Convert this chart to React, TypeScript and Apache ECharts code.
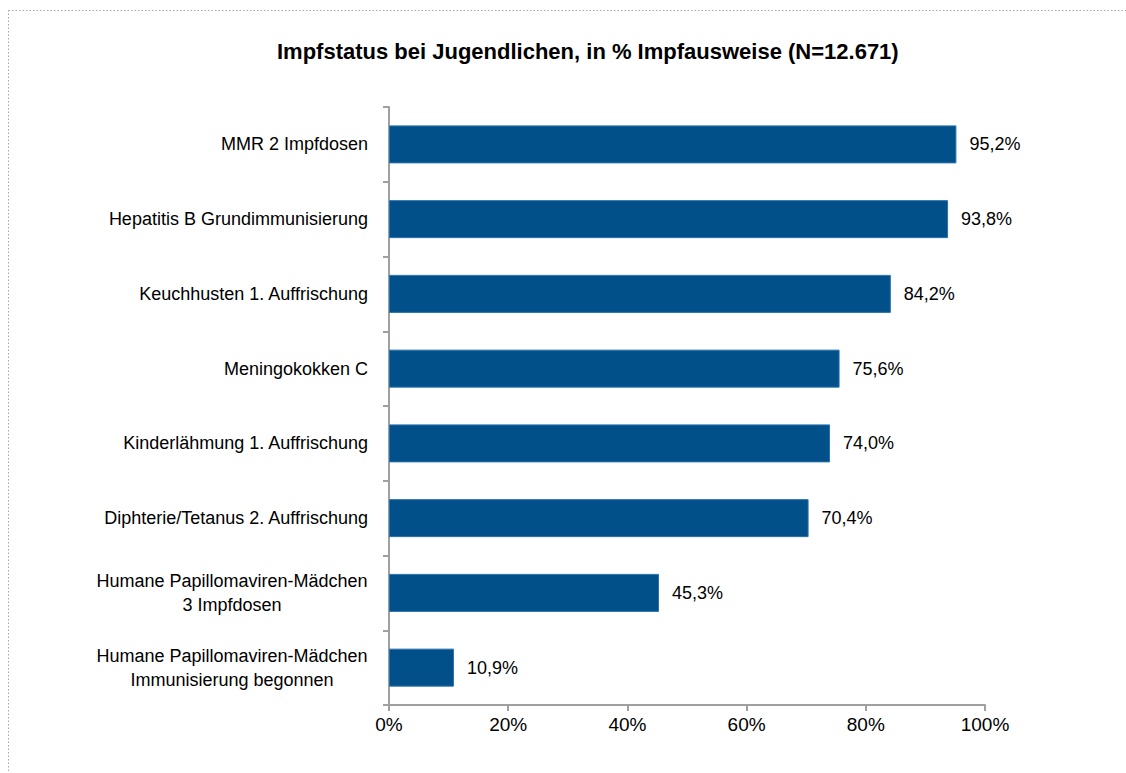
import React, { useEffect, useRef } from "react";
import * as echarts from "echarts";

const categories = [
  "MMR 2 Impfdosen",
  "Hepatitis B Grundimmunisierung",
  "Keuchhusten 1. Auffrischung",
  "Meningokokken C",
  "Kinderlähmung 1. Auffrischung",
  "Diphterie/Tetanus 2. Auffrischung",
  "Humane Papillomaviren-Mädchen\n3 Impfdosen",
  "Humane Papillomaviren-Mädchen\nImmunisierung begonnen",
];
const values = [95.2, 93.8, 84.2, 75.6, 74.0, 70.4, 45.3, 10.9];
const xTicks = [0, 20, 40, 60, 80, 100];
const titleText = "Impfstatus bei Jugendlichen, in % Impfausweise (N=12.671)";

const FONT = '"Liberation Sans", Arial, sans-serif';
const FS = 18;

function measure(text: string): number {
  const c = document.createElement("canvas").getContext("2d");
  if (!c) return text.length * 9;
  c.font = `${FS}px ${FONT}`;
  return c.measureText(text).width;
}

export default function App() {
  const ref = useRef<HTMLDivElement>(null);
  useEffect(() => {
    if (!ref.current) return;
    const chart = echarts.init(ref.current, null, { renderer: "svg" });
    const rich: Record<string, any> = {};
    categories.forEach((cat) => {
      const lines = cat.split("\n");
      if (lines.length > 1) {
        const w = Math.ceil(Math.max(...lines.map(measure)));
        rich["c" + w] = {
          width: w,
          align: "center",
          fontFamily: FONT,
          fontSize: FS,
          color: "#000",
          lineHeight: 24,
        };
      }
    });
    chart.setOption({
      animation: false,
      backgroundColor: "#fff",
      title: {
        text: titleText,
        left: 272,
        top: 35,
        textStyle: { fontFamily: FONT, fontSize: 22, fontWeight: "bold", color: "#000" },
      },
      graphic: [
        {
          type: "rect",
          shape: { x: 8.5, y: 10.5, width: 1150, height: 800 },
          style: { fill: "none", stroke: "#a6a6a6", lineWidth: 1, lineDash: [1.5, 2] },
          silent: true,
        },
      ],
      grid: { left: 389, top: 107, width: 596, height: 598, containLabel: false },
      xAxis: {
        type: "value",
        min: 0,
        max: 100,
        interval: 20,
        axisLine: { show: true, lineStyle: { color: "#a0a0a0", width: 2 } },
        axisTick: { show: true, length: 6, lineStyle: { color: "#a0a0a0", width: 2 } },
        splitLine: { show: false },
        axisLabel: {
          formatter: (v: number) => (xTicks.includes(v) ? `${v}%` : ""),
          fontFamily: FONT,
          fontSize: FS + 1,
          color: "#000",
          margin: 10,
        },
      },
      yAxis: {
        type: "category",
        inverse: true,
        data: categories,
        axisLine: { show: true, lineStyle: { color: "#a0a0a0", width: 2 } },
        axisTick: { show: true, length: 6, lineStyle: { color: "#a0a0a0", width: 2 } },
        axisLabel: {
          fontFamily: FONT,
          fontSize: FS,
          color: "#000",
          margin: 21,
          lineHeight: 24,
          formatter: (v: string) => {
            const lines = v.split("\n");
            if (lines.length === 1) return v;
            const w = Math.ceil(Math.max(...lines.map(measure)));
            return lines.map((l) => `{c${w}|${l}}`).join("\n");
          },
          rich,
        },
      },
      series: [
        {
          type: "bar",
          data: values,
          barWidth: 38,
          itemStyle: { color: "#02508a", borderColor: "#2a72ad", borderWidth: 1 },
          label: {
            show: true,
            position: "right",
            distance: 13,
            fontFamily: FONT,
            fontSize: FS,
            color: "#000",
            formatter: (p: any) => `${p.value.toFixed(1).replace(".", ",")}%`,
          },
        },
      ],
    });
    return () => chart.dispose();
  }, []);
  return (
    <div
      ref={ref}
      style={{ position: "absolute", left: 0, top: 0, width: 1126, height: 773 }}
    />
  );
}
